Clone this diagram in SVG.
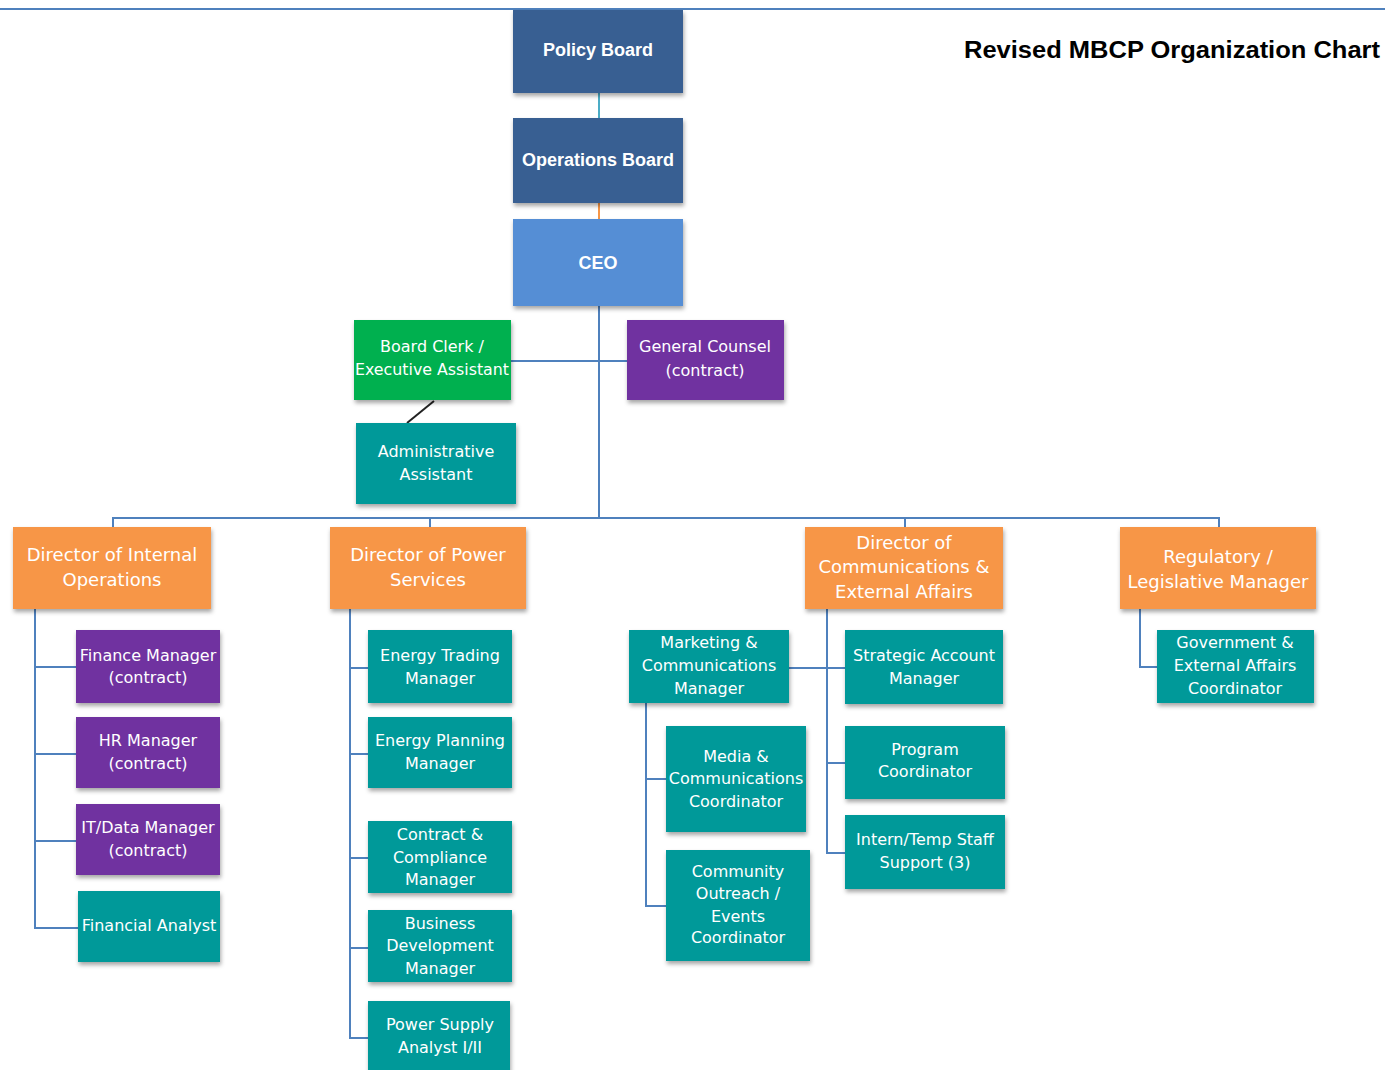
<svg xmlns="http://www.w3.org/2000/svg" width="1385" height="1070" viewBox="0 0 1385 1070">
<defs>
<filter id="sh" x="-10%" y="-10%" width="125%" height="130%">
<feDropShadow dx="1" dy="3" stdDeviation="2" flood-color="#000" flood-opacity="0.35"/>
</filter>
<style>
.n{filter:url(#sh);}
.dk{fill:#375F92;}
.ceo{fill:#558ED5;}
.gr{fill:#00B050;}
.pu{fill:#7030A0;}
.tl{fill:#009999;}
.or{fill:#F79646;}
text{font-family:"DejaVu Sans",Verdana,sans-serif;fill:#fff;text-anchor:middle;font-size:16px;}
.b{font-family:"Liberation Sans",Arial,sans-serif;font-weight:bold;font-size:18px;}
.d{font-size:18px;}
.title{font-family:"Liberation Sans",Arial,sans-serif;fill:#000;font-weight:bold;font-size:23px;text-anchor:start;}
.c{fill:none;stroke:#4F81BD;stroke-width:2;}
</style>
</defs>
<rect width="1385" height="1070" fill="#fff"/>
<line x1="0" y1="9" x2="1385" y2="9" stroke="#4F81BD" stroke-width="2"/>
<text class="title" x="964" y="58" textLength="416" lengthAdjust="spacingAndGlyphs">Revised MBCP Organization Chart</text>

<g id="connectors">
<line x1="599" y1="93" x2="599" y2="118" stroke="#4BACC6" stroke-width="2"/>
<line x1="599" y1="203" x2="599" y2="219" stroke="#F79646" stroke-width="2"/>
<path class="c" d="M599 306V518"/>
<path class="c" d="M511 361H627"/>
<line x1="434" y1="401" x2="407" y2="423" stroke="#222" stroke-width="2"/>
<path class="c" d="M113 528V518H1219V528M430 518V528M905 518V528"/>
<path class="c" d="M35 609V928H78M35 667H76M35 754H76M35 841H76"/>
<path class="c" d="M350 609V1038H368M350 668H368M350 754H368M350 858H368M350 948H368"/>
<path class="c" d="M827 609V853H845M789 668H845M827 763H845"/>
<path class="c" d="M646 703V906H666M646 779H666"/>
<path class="c" d="M1140 609V667H1157"/>
</g>

<g id="policy-board"><rect class="n dk" x="513" y="10" width="170" height="83"/><text class="b" x="598" y="56">Policy Board</text></g>
<g id="operations-board"><rect class="n dk" x="513" y="118" width="170" height="85"/><text class="b" x="598" y="166">Operations Board</text></g>
<g id="ceo"><rect class="n ceo" x="513" y="219" width="170" height="87"/><text class="b" x="598" y="269">CEO</text></g>

<g id="board-clerk"><rect class="n gr" x="354" y="320" width="157" height="80"/><text x="432" y="352">Board Clerk /</text><text x="432" y="375" textLength="154" lengthAdjust="spacingAndGlyphs">Executive Assistant</text></g>
<g id="general-counsel"><rect class="n pu" x="627" y="320" width="157" height="80"/><text x="705" y="352">General Counsel</text><text x="705" y="376">(contract)</text></g>
<g id="admin-assistant"><rect class="n tl" x="356" y="423" width="160" height="81"/><text x="436" y="457">Administrative</text><text x="436" y="480">Assistant</text></g>

<g id="dir-internal"><rect class="n or" x="13" y="527" width="198" height="82"/><text class="d" x="112" y="561">Director of Internal</text><text class="d" x="112" y="586">Operations</text></g>
<g id="dir-power"><rect class="n or" x="330" y="527" width="196" height="82"/><text class="d" x="428" y="561">Director of Power</text><text class="d" x="428" y="586">Services</text></g>
<g id="dir-comms"><rect class="n or" x="805" y="527" width="198" height="82"/><text class="d" x="904" y="549">Director of</text><text class="d" x="904" y="573">Communications &amp;</text><text class="d" x="904" y="598">External Affairs</text></g>
<g id="regulatory"><rect class="n or" x="1120" y="527" width="196" height="82"/><text class="d" x="1218" y="563">Regulatory /</text><text class="d" x="1218" y="588">Legislative Manager</text></g>

<g id="finance-manager"><rect class="n pu" x="76" y="630" width="144" height="73"/><text x="148" y="661">Finance Manager</text><text x="148" y="683">(contract)</text></g>
<g id="hr-manager"><rect class="n pu" x="76" y="717" width="144" height="71"/><text x="148" y="746">HR Manager</text><text x="148" y="769">(contract)</text></g>
<g id="it-manager"><rect class="n pu" x="76" y="804" width="144" height="71"/><text x="148" y="833">IT/Data Manager</text><text x="148" y="856">(contract)</text></g>
<g id="financial-analyst"><rect class="n tl" x="78" y="891" width="142" height="71"/><text x="149" y="931">Financial Analyst</text></g>

<g id="energy-trading"><rect class="n tl" x="368" y="630" width="144" height="73"/><text x="440" y="661">Energy Trading</text><text x="440" y="684">Manager</text></g>
<g id="energy-planning"><rect class="n tl" x="368" y="717" width="144" height="71"/><text x="440" y="746">Energy Planning</text><text x="440" y="769">Manager</text></g>
<g id="contract-compliance"><rect class="n tl" x="368" y="821" width="144" height="72"/><text x="440" y="840">Contract &amp;</text><text x="440" y="863">Compliance</text><text x="440" y="885">Manager</text></g>
<g id="business-dev"><rect class="n tl" x="368" y="910" width="144" height="72"/><text x="440" y="929">Business</text><text x="440" y="951">Development</text><text x="440" y="974">Manager</text></g>
<g id="power-supply"><rect class="n tl" x="368" y="1001" width="142" height="75"/><text x="440" y="1030">Power Supply</text><text x="440" y="1053">Analyst I/II</text></g>

<g id="marketing"><rect class="n tl" x="629" y="630" width="160" height="73"/><text x="709" y="648">Marketing &amp;</text><text x="709" y="671">Communications</text><text x="709" y="694">Manager</text></g>
<g id="strategic-account"><rect class="n tl" x="845" y="630" width="158" height="74"/><text x="924" y="661">Strategic Account</text><text x="924" y="684">Manager</text></g>
<g id="program-coord"><rect class="n tl" x="845" y="726" width="160" height="73"/><text x="925" y="755">Program</text><text x="925" y="777">Coordinator</text></g>
<g id="intern"><rect class="n tl" x="845" y="815" width="160" height="74"/><text x="925" y="845">Intern/Temp Staff</text><text x="925" y="868">Support (3)</text></g>
<g id="media-coord"><rect class="n tl" x="666" y="726" width="140" height="106"/><text x="736" y="762">Media &amp;</text><text x="736" y="784">Communications</text><text x="736" y="807">Coordinator</text></g>
<g id="community"><rect class="n tl" x="666" y="850" width="144" height="111"/><text x="738" y="877">Community</text><text x="738" y="899">Outreach /</text><text x="738" y="922">Events</text><text x="738" y="943">Coordinator</text></g>

<g id="gov-affairs"><rect class="n tl" x="1157" y="630" width="157" height="73"/><text x="1235" y="648">Government &amp;</text><text x="1235" y="671">External Affairs</text><text x="1235" y="694">Coordinator</text></g>
</svg>
